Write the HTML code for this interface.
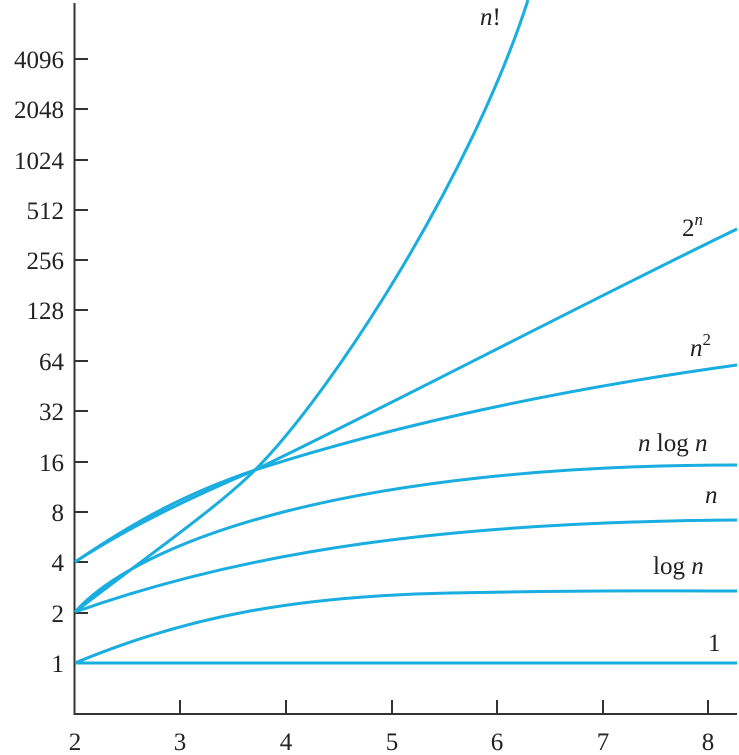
<!DOCTYPE html><html><head><style>body{margin:0;background:#fff}svg{display:block}text{font-family:"Liberation Serif",serif;font-size:25px;fill:#222}</style></head><body>
<svg width="739" height="755" viewBox="0 0 739 755">
<g stroke="#333" stroke-width="2" fill="none">
<path d="M74.5,3V714H737"/>
<path d="M74,59h14M74,109h14M74,160h14M74,210h14M74,260h14M74,310h14M74,361h14M74,411h14M74,462h14M74,512h14M74,562h14M74,613h14M74,663h14"/>
<path d="M180,714v-14M286,714v-14M392,714v-14M497,714v-14M603,714v-14M708,714v-14"/>
</g>
<g text-anchor="end">
<text x="64" y="68">4096</text><text x="64" y="118">2048</text><text x="64" y="169">1024</text><text x="64" y="219">512</text><text x="64" y="269">256</text><text x="64" y="319">128</text><text x="64" y="370">64</text><text x="64" y="420">32</text><text x="64" y="471">16</text><text x="64" y="521">8</text><text x="64" y="571">4</text><text x="64" y="622">2</text><text x="64" y="672">1</text>
</g>
<g text-anchor="middle">
<text x="75" y="750">2</text><text x="180" y="750">3</text><text x="286" y="750">4</text><text x="392" y="750">5</text><text x="497" y="750">6</text><text x="603" y="750">7</text><text x="708" y="750">8</text>
</g>
<g stroke="#19ade0" stroke-width="3" fill="none" stroke-linejoin="round">
<path d="M75,663H737"/>
<path d="M75,663C190,615 300,596 450,593S700,591 737,591"/>
<path d="M75,612C250,550 450,522 737,520"/>
<path d="M75,612C140,540 350,465 737,465"/>
<path d="M75,562C140,518 190,492 255,470C360,436 520,395 737,365"/>
<path d="M75,562C130,526 190,498 255,470C400,400 600,295 737,229"/>
<path d="M75,612C135,565 215,510 255,470C330,395 470,180 528,0"/>
</g>
<text x="480" y="25"><tspan font-style="italic">n</tspan>!</text>
<text x="682" y="236">2<tspan font-style="italic" font-size="17" dy="-11">n</tspan></text>
<text x="690" y="356"><tspan font-style="italic">n</tspan><tspan font-size="17" dy="-11">2</tspan></text>
<text x="638" y="451"><tspan font-style="italic">n</tspan> log <tspan font-style="italic">n</tspan></text>
<text x="705" y="503" font-style="italic">n</text>
<text x="653" y="574">log <tspan font-style="italic">n</tspan></text>
<text x="708" y="651">1</text>
</svg></body></html>
